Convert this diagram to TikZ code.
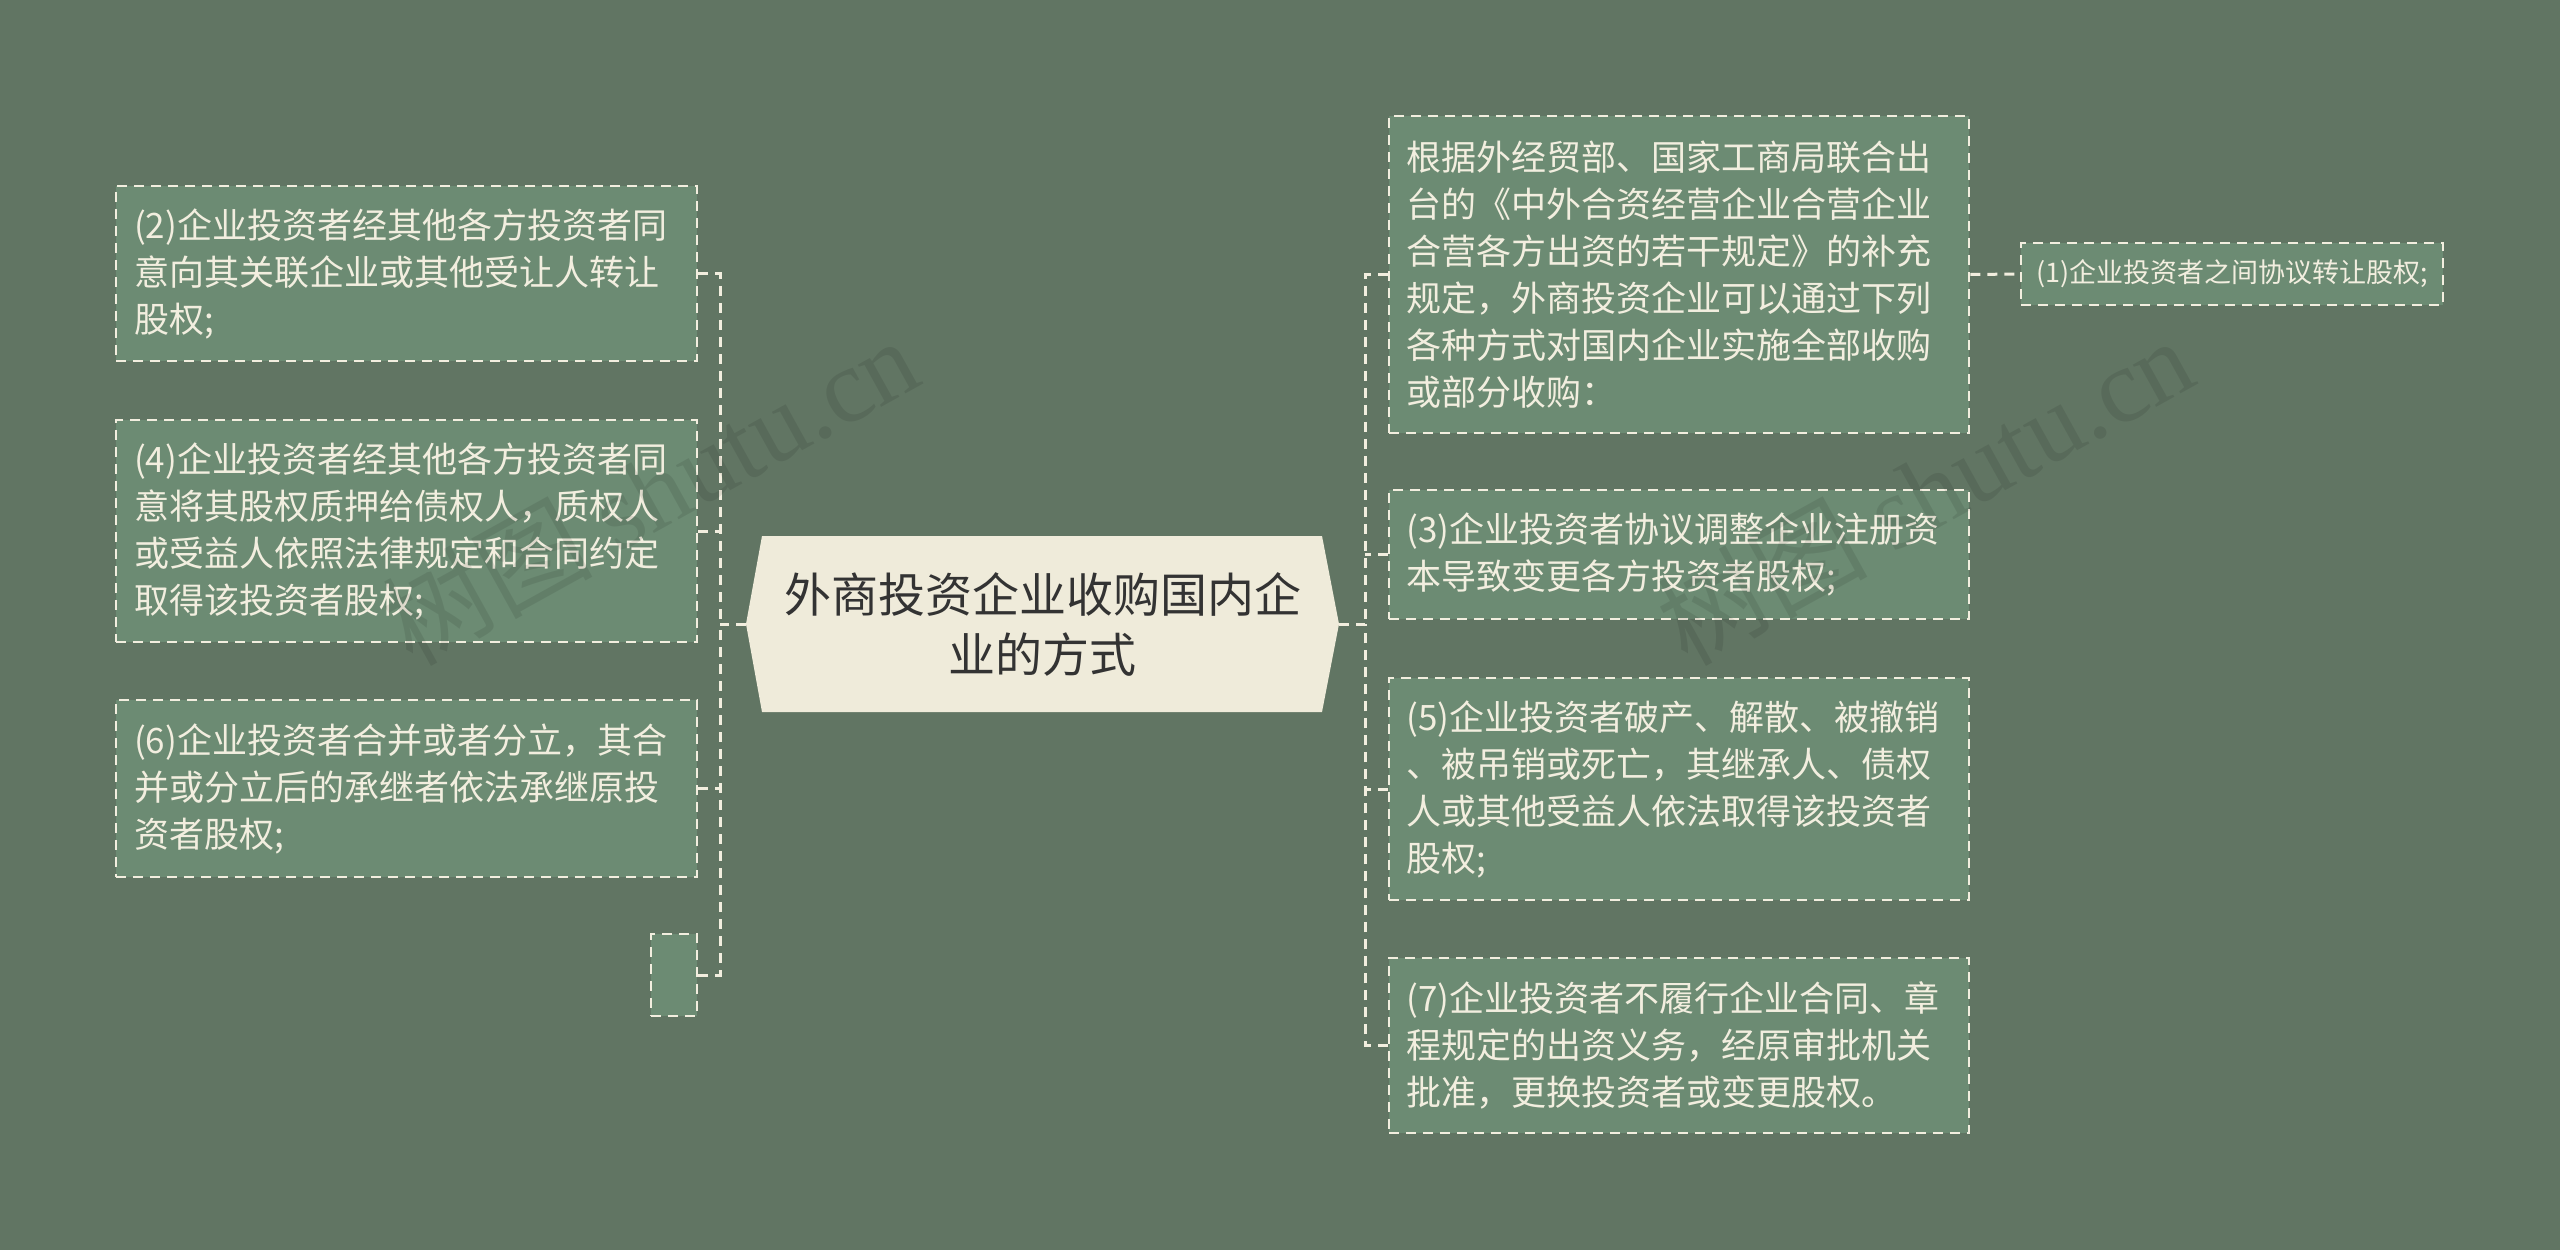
\documentclass[tikz,border=0pt]{standalone}
\usepackage{fontspec}
\setmainfont{Noto Sans CJK SC}
\newfontfamily\wmlatin{Liberation Serif}
\usetikzlibrary{calc}
\definecolor{bgc}{HTML}{617563}
\definecolor{boxc}{HTML}{6C8B73}
\definecolor{linec}{HTML}{F2EEDF}
\definecolor{centc}{HTML}{EFEBDA}
\definecolor{ctext}{HTML}{333333}
\tikzset{
  leaf/.style={draw=linec, fill=boxc, line width=2.5pt, dash pattern=on 10pt off 7pt,
    text=linec, align=left, inner sep=0pt, text width=#1, font=\fontsize{35pt}{47pt}\selectfont},
  leaf/.default=545pt,
  conn/.style={draw=linec, line width=3pt, dash pattern=on 10pt off 7pt},
  wmark/.style={text=black, opacity=0.09, rotate=29, font=\fontsize{105pt}{110pt}\selectfont}
}
\begin{document}
\begin{tikzpicture}[x=1pt,y=-1pt]
\useasboundingbox (0,0) rectangle (2560,1250);
\fill[bgc] (0,0) rectangle (2560,1250);

% centre
\fill[centc] (746,624) -- (762,536) -- (1322,536) -- (1339,624) -- (1322,712) -- (762,712) -- cycle;
\node[text=ctext, align=center, font=\fontsize{47pt}{60pt}\selectfont] (c) at (1042.5,624) {外商投资企业收购国内企\\业的方式};
\coordinate (cL) at (746,624);
\coordinate (cR) at (1339,624);
\coordinate (tl) at (720,624);
\coordinate (tr) at (1365,624);

% left boxes
\node[leaf, minimum width=581pt, minimum height=175pt] (L1) at (406.5,273.5) {(2)企业投资者经其他各方投资者同\\意向其关联企业或其他受让人转让\\股权;};
\node[leaf, minimum width=581pt, minimum height=222pt] (L2) at (406.5,531) {(4)企业投资者经其他各方投资者同\\意将其股权质押给债权人，质权人\\或受益人依照法律规定和合同约定\\取得该投资者股权;};
\node[leaf, minimum width=581pt, minimum height=177pt] (L3) at (406.5,788.5) {(6)企业投资者合并或者分立，其合\\并或分立后的承继者依法承继原投\\资者股权;};
\node[leaf=0pt, minimum width=46pt, minimum height=82pt] (L4) at (674,975) {};

% right boxes
\node[leaf, minimum width=580pt, minimum height=317pt] (R0) at (1679,274.5) {根据外经贸部、国家工商局联合出\\台的《中外合资经营企业合营企业\\合营各方出资的若干规定》的补充\\规定，外商投资企业可以通过下列\\各种方式对国内企业实施全部收购\\或部分收购：};
\node[leaf=410pt, align=center, minimum width=422pt, minimum height=62pt, font=\fontsize{27pt}{32pt}\selectfont] (R1) at (2232,274) {(1)企业投资者之间协议转让股权;};
\node[leaf, minimum width=580pt, minimum height=129pt] (R2) at (1679,554.5) {(3)企业投资者协议调整企业注册资\\本导致变更各方投资者股权;};
\node[leaf, minimum width=580pt, minimum height=222pt] (R3) at (1679,789) {(5)企业投资者破产、解散、被撤销\\、被吊销或死亡，其继承人、债权\\人或其他受益人依法取得该投资者\\股权;};
\node[leaf, minimum width=580pt, minimum height=175pt] (R4) at (1679,1045.5) {(7)企业投资者不履行企业合同、章\\程规定的出资义务，经原审批机关\\批准，更换投资者或变更股权。};

% connectors
\draw[conn] (cL) -- (tl);
\draw[conn] (L1.east) -| (tl);
\draw[conn] (L4.east) -| (tl);
\draw[conn] (L2.east) -- (L2.east -| tl);
\draw[conn] (L3.east) -- (L3.east -| tl);
\draw[conn] (cR) -- (tr);
\draw[conn] (R0.west) -| (tr);
\draw[conn] (R4.west) -| (tr);
\draw[conn] (R2.west) -- (R2.west -| tr);
\draw[conn] (R3.west) -- (R3.west -| tr);
\draw[conn] (R0.east) -- (R1.west);

% watermarks
\node[wmark] (w1) at (650,490) {树图 {\wmlatin shutu.cn}};
\node[wmark] (w2) at (1925,490) {树图 {\wmlatin shutu.cn}};
\end{tikzpicture}
\end{document}
